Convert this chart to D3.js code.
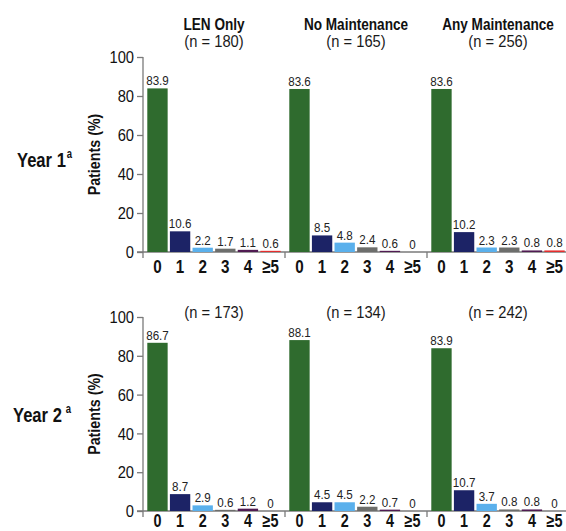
<!DOCTYPE html>
<html>
<head>
<meta charset="utf-8">
<script src="https://cdn.jsdelivr.net/npm/d3@7"></script>
<style>
  html, body { margin: 0; padding: 0; background: #fff; overflow: hidden; }
  svg { display: block; }
  svg text { font-family: "Liberation Sans", Arial, "Helvetica", sans-serif; }
</style>
</head>
<body>
<svg id="chart" width="566" height="531"></svg>
<script>
// Number of infection episodes per patient, by maintenance arm
const categories = ["0", "1", "2", "3", "4", "\u22655"];
const groups = ["LEN Only", "No Maintenance", "Any Maintenance"];
const yTicks = [0, 20, 40, 60, 80, 100];

const year1N = [180, 165, 256];
const year1LenOnly = [83.9, 10.6, 2.2, 1.7, 1.1, 0.6];
const year1NoMaint = [83.6, 8.5, 4.8, 2.4, 0.6, 0];
const year1AnyMaint = [83.6, 10.2, 2.3, 2.3, 0.8, 0.8];

const year2N = [173, 134, 242];
const year2LenOnly = [86.7, 8.7, 2.9, 0.6, 1.2, 0];
const year2NoMaint = [88.1, 4.5, 4.5, 2.2, 0.7, 0];
const year2AnyMaint = [83.9, 10.7, 3.7, 0.8, 0.8, 0];

const colors = ["#2f6b2e", "#1c2366", "#5ab0ec", "#6d6e6c", "#501b52", "#e52e2e"];
const axisColor = "#7a7a7a";

const svg = d3.select("#chart");

const xGroup = d3.scaleBand().domain(groups).range([143, 569]).padding(0);
const xBar = d3.scaleBand().domain(categories).range([0, xGroup.bandwidth()])
  .paddingInner(0.1).paddingOuter(0.19);
const color = d3.scaleOrdinal().domain(categories).range(colors);

// condensed text: horizontally squeezed around its anchor point
function label(parent, x, y, str, opts) {
  return parent.append("text")
    .attr("transform", `translate(${x},${y}) scale(${opts.sx || 1},1)`)
    .attr("text-anchor", opts.anchor || "middle")
    .attr("font-size", opts.size)
    .attr("font-weight", opts.bold ? "bold" : "normal")
    .attr("fill", opts.fill || "#1a1a1a")
    .text(str);
}

function drawPanel(cfg) {
  const y = d3.scaleLinear().domain([0, 100]).range([cfg.bottom, cfg.top]);
  const g = svg.append("g");

  // y axis ticks and labels
  const ax = g.append("g")
    .attr("transform", "translate(143,0)")
    .call(d3.axisLeft(y).tickValues(yTicks).tickSize(6).tickSizeOuter(0));
  ax.select(".domain").remove();
  ax.selectAll(".tick line").attr("stroke", axisColor).attr("stroke-width", 1.3);
  ax.selectAll(".tick text")
    .attr("x", 0).attr("dy", "0.36em")
    .attr("transform", "translate(-9,0) scale(0.92,1)")
    .attr("font-size", 16).attr("fill", "#111")
    .style("font-family", "'Liberation Sans', Arial, sans-serif");

  g.append("line")
    .attr("x1", 143).attr("x2", 143)
    .attr("y1", y(100)).attr("y2", y(0) + 6)
    .attr("stroke", axisColor).attr("stroke-width", 1.3);

  // baseline
  g.append("line")
    .attr("x1", 137).attr("x2", 569)
    .attr("y1", y(0)).attr("y2", y(0))
    .attr("stroke", axisColor).attr("stroke-width", 1.3);

  // group separators
  g.selectAll("line.sep")
    .data(groups.slice(1))
    .join("line")
    .attr("class", "sep")
    .attr("x1", d => xGroup(d)).attr("x2", d => xGroup(d))
    .attr("y1", y(0)).attr("y2", y(0) + 6)
    .attr("stroke", axisColor).attr("stroke-width", 1.3);

  // y axis title
  g.append("text")
    .attr("transform", `translate(100,${(y(0) + y(100)) / 2}) rotate(-90) scale(0.84,1)`)
    .attr("text-anchor", "middle")
    .attr("font-size", 17).attr("font-weight", "bold").attr("fill", "#111")
    .text("Patients (%)");

  // row label with superscript note marker
  const row = g.append("text")
    .attr("transform", `translate(${cfg.rowX},${cfg.rowY}) scale(0.79,1)`)
    .attr("font-size", 21).attr("font-weight", "bold").attr("fill", "#111");
  row.append("tspan").text(cfg.rowLabel);
  row.append("tspan").attr("font-size", 12).attr("dx", cfg.supGap).attr("dy", -9).text("a");

  groups.forEach((grp, gi) => {
    const gx = xGroup(grp);
    const cx = gx + xGroup.bandwidth() / 2;
    const vals = cfg.series[gi];
    const gg = g.append("g").attr("transform", `translate(${gx},0)`);

    if (cfg.showTitle) {
      label(g, cx, cfg.titleY, grp, { size: 17, bold: true, sx: 0.8, fill: "#111" });
    }
    label(g, cx, cfg.nY, `(n = ${cfg.n[gi]})`, { size: 16, sx: 0.92 });

    const rows = categories.map((c, i) => ({ c, v: vals[i] }));

    gg.selectAll("rect")
      .data(rows.filter(d => d.v > 0))
      .join("rect")
      .attr("x", d => xBar(d.c))
      .attr("width", xBar.bandwidth())
      .attr("y", d => y(d.v))
      .attr("height", d => y(0) - y(d.v))
      .attr("fill", d => color(d.c));

    rows.forEach(d => {
      label(gg, xBar(d.c) + xBar.bandwidth() / 2, y(d.v) - 3, d.v, { size: 13.5, sx: 0.86, fill: "#222" });
    });

    categories.forEach(c => {
      label(gg, xBar(c) + xBar.bandwidth() / 2, y(0) + cfg.catOffset, c, { size: cfg.catSize, bold: true, sx: 0.8, fill: "#111" });
    });
  });
}

drawPanel({
  top: 57, bottom: 252,
  series: [year1LenOnly, year1NoMaint, year1AnyMaint],
  n: year1N, showTitle: true, titleY: 30, nY: 47, catOffset: 21, catSize: 19,
  rowLabel: "Year 1", rowX: 17, rowY: 167, supGap: 1
});

drawPanel({
  top: 317, bottom: 511,
  series: [year2LenOnly, year2NoMaint, year2AnyMaint],
  n: year2N, showTitle: false, nY: 318, catOffset: 16, catSize: 18,
  rowLabel: "Year 2", rowX: 13, rowY: 422, supGap: 5
});
</script>
</body>
</html>
